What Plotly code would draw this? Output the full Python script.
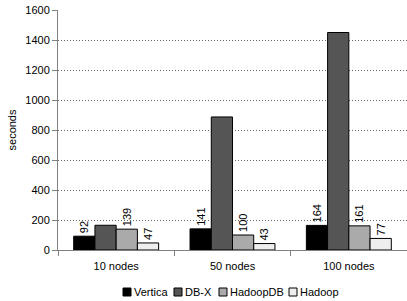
import plotly.graph_objects as go

categories = ["10 nodes", "50 nodes", "100 nodes"]
series_names = ["Vertica", "DB-X", "HadoopDB", "Hadoop"]
vertica = [92, 141, 164]
dbx = [165, 887, 1450]
hadoopdb = [139, 100, 161]
hadoop = [47, 43, 77]
show_labels = [True, False, True, True]
colors = ["#000000", "#555555", "#aaaaaa", "#eeeeee"]

values = [vertica, dbx, hadoopdb, hadoop]

W, H = 407, 301
L, R, T, B = 58, 0, 10, 51
pw, ph = W - L - R, H - T - B

def px_x(x):
    return (x - L) / pw

def px_y(y):
    return (H - B - y) / ph

FONT = "Liberation Sans, Arial, sans-serif"

fig = go.Figure()
for name, vals, col, lab in zip(series_names, values, colors, show_labels):
    fig.add_trace(go.Bar(
        x=categories, y=vals, name=name,
        marker=dict(color=col, line=dict(color="#000000", width=1)),
        text=[str(v) for v in vals] if lab else None,
        textposition="outside" if lab else "none",
        textangle=-90,
        textfont=dict(size=11, color="#000000", family=FONT),
        cliponaxis=False,
        showlegend=False,
        hoverinfo="skip",
    ))

# compact legend (like the original), built from series names/colours
legend_x = [123, 174, 219, 289]
shapes = []
annotations = []
for name, col, lx in zip(series_names, colors, legend_x):
    shapes.append(dict(type="rect", xref="paper", yref="paper",
                       x0=px_x(lx), x1=px_x(lx + 8), y0=px_y(296), y1=px_y(288),
                       fillcolor=col, line=dict(color="#000000", width=1)))
    annotations.append(dict(xref="paper", yref="paper", x=px_x(lx + 9), y=px_y(292),
                            xanchor="left", yanchor="middle", text=name, showarrow=False,
                            font=dict(size=11, family=FONT, color="#000000")))

fig.update_layout(
    width=W, height=H,
    margin=dict(l=L, r=R, t=T, b=B, autoexpand=False),
    barmode="group", bargap=0.27, bargroupgap=0,
    plot_bgcolor="white", paper_bgcolor="white",
    font=dict(family=FONT, size=11, color="#000000"),
    showlegend=False,
    shapes=shapes, annotations=annotations,
    uniformtext=dict(minsize=11, mode="show"),
)
fig.update_xaxes(
    type="category", showline=True, linecolor="#808080", linewidth=1,
    ticks="outside", tickson="boundaries", ticklen=5, tickcolor="#808080",
    showgrid=False, tickfont=dict(size=11), ticklabelstandoff=6,
)
fig.update_yaxes(
    range=[0, 1600], dtick=200, showline=True, linecolor="#808080", linewidth=1,
    ticks="outside", ticklen=5, tickcolor="#808080",
    showgrid=True, gridcolor="#666666", griddash="1px,2px", gridwidth=1,
    zeroline=False, tickfont=dict(size=11),
    title=dict(text="seconds", font=dict(size=11), standoff=6),
)
fig.write_html("out.html", config={"displayModeBar": False, "staticPlot": True},
               post_script="document.body.style.margin='0px';document.body.style.overflow='hidden';")
